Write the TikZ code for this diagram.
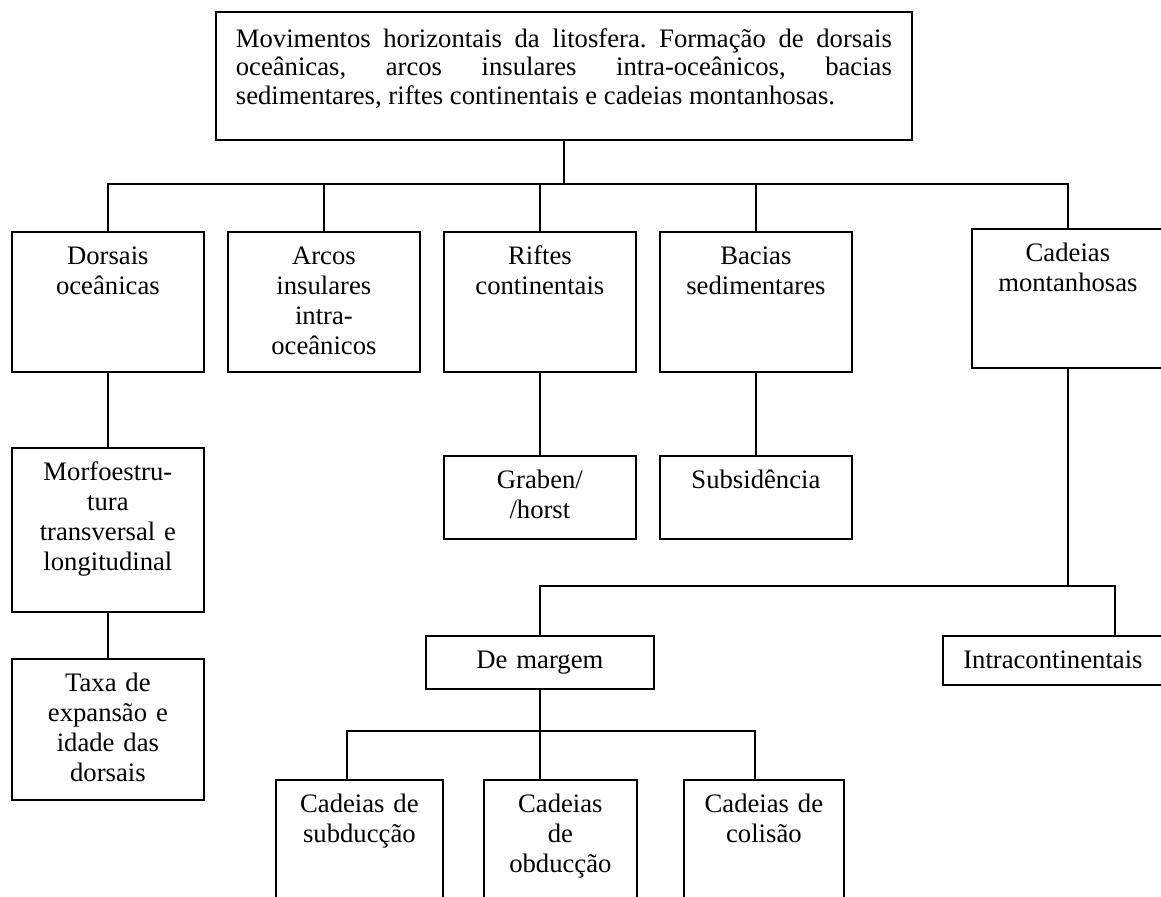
\documentclass[tikz,border=0pt]{standalone}
\usepackage{fontspec}
\setmainfont{Liberation Serif}
\begin{document}
\begin{tikzpicture}[x=0.45pt, y=-0.45pt,
    caixa/.style={draw=black, line width=0.8pt, inner sep=0pt, anchor=north west,
        align=center, text height=14.85pt, font=\fontsize{12}{13.5}\selectfont},
    ligacao/.style={draw=black, line width=0.8pt}]
        \useasboundingbox (0,0) rectangle (1161,896);
        \clip (0,0) rectangle (1161,896);

        \node[caixa, inner xsep=9pt, text width=295.2pt, align=justify, text height=16pt,
            text depth=41.6pt, font=\fontsize{12}{12.8}\selectfont\frenchspacing] (movim) at (215,11)
            {Movimentos horizontais da litosfera. Formação de dorsais\linebreak
             oceânicas, arcos insulares intra-oceânicos, bacias\linebreak
             sedimentares, riftes continentais e cadeias montanhosas.};

        \node[caixa, text width=86.4pt, text depth=48.15pt] (dorsais) at (11,231) {Dorsais\\oceânicas};
        \node[caixa, text width=86.4pt, text depth=48.15pt] (arcos) at (227,231) {Arcos\\insulares\\intra-\\oceânicos};
        \node[caixa, text width=86.4pt, text depth=48.15pt] (riftes) at (443,231) {Riftes\\continentais};
        \node[caixa, text width=86.4pt, text depth=48.15pt] (bacias) at (659,231) {Bacias\\sedimentares};
        \node[caixa, text width=86.4pt, text depth=47.7pt] (cadeias) at (971,228) {Cadeias\\montanhosas};

        \node[caixa, text width=86.4pt, text depth=58.95pt] (morfo) at (11,447) {Morfoestru-\\tura\\transversal e\\longitudinal};
        \node[caixa, text width=86.4pt, text depth=48.6pt] (taxa) at (11,658) {Taxa de\\expansão e\\idade das\\dorsais};
        \node[caixa, text width=86.4pt, text depth=22.5pt] (graben) at (443,455) {Graben/\\/horst};
        \node[caixa, text width=86.4pt, text depth=22.5pt] (subsid) at (659,455) {Subsidência};

        \node[caixa, text width=102.6pt, text depth=9pt] (margem) at (425,635) {De margem};
        \node[caixa, text width=99pt, text depth=7.2pt] (intra) at (942,635) {Intracontinentais};

        \node[caixa, text width=75.15pt, text depth=67.5pt] (subduc) at (275,779) {Cadeias de\\subducção};
        \node[caixa, text width=68.85pt, text depth=67.5pt] (obduc) at (483,779) {Cadeias\\de\\obducção};
        \node[caixa, text width=72pt, text depth=67.5pt] (colisao) at (683,779) {Cadeias de\\colisão};

        \coordinate (bus1) at (563,184);
        \coordinate (bus2) at (1115,586);
        \coordinate (bus3a) at (347,731);
        \coordinate (bus3b) at (755,731);

        \draw[ligacao] (movim.south) -- (movim.south |- bus1);
        \draw[ligacao] (dorsais.north) -- (dorsais.north |- bus1) -- (cadeias.north |- bus1) -- (cadeias.north);
        \foreach \n in {arcos, riftes, bacias}
            \draw[ligacao] (\n.north) -- (\n.north |- bus1);

        \draw[ligacao] (dorsais) -- (morfo);
        \draw[ligacao] (morfo) -- (taxa);
        \draw[ligacao] (riftes) -- (graben);
        \draw[ligacao] (bacias) -- (subsid);

        \draw[ligacao] (cadeias.south) -- (cadeias.south |- bus2);
        \draw[ligacao] (margem.north) |- (bus2) -- (bus2 |- intra.north);

        \draw[ligacao] (subduc.north -| bus3a) -- (bus3a) -- (bus3b) -- (bus3b |- colisao.north);
        \draw[ligacao] (margem.south) -- (margem.south |- obduc.north);
    \end{tikzpicture}
\end{document}
